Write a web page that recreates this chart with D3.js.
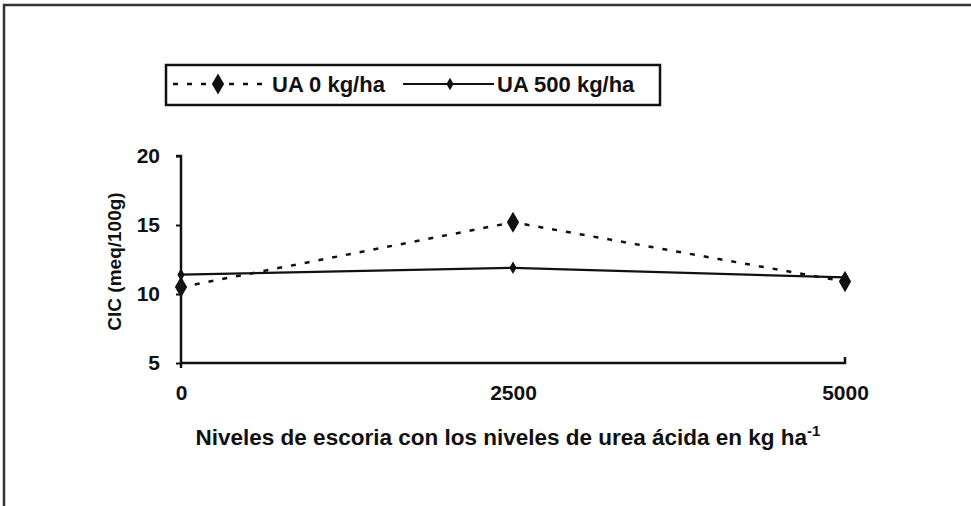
<!DOCTYPE html>
<html><head><meta charset="utf-8">
<script src="https://cdn.jsdelivr.net/npm/d3@7"></script>
<style>
html,body{margin:0;padding:0;background:#fff;}
svg{display:block;}
text{font-family:"Liberation Sans",Arial,sans-serif;font-weight:bold;fill:#111;}
</style></head>
<body>
<script>
const categories = [0, 2500, 5000];
const categoryLabels = ["0", "2500", "5000"];
const ua0 = [10.5, 15.2, 10.9];
const ua500 = [11.4, 11.9, 11.2];
const yTicks = [5, 10, 15, 20];
const seriesNames = ["UA 0 kg/ha", "UA 500 kg/ha"];

const W = 971, H = 506;
const svg = d3.select("body").append("svg").attr("width", W).attr("height", H);

// frame
svg.append("line").attr("x1", 3).attr("x2", W).attr("y1", 5).attr("y2", 5)
  .attr("stroke", "#333").attr("stroke-width", 2.5);
svg.append("line").attr("x1", 4).attr("x2", 4).attr("y1", 5).attr("y2", H)
  .attr("stroke", "#333").attr("stroke-width", 2.5);

const x = d3.scaleLinear().domain([0, 5000]).range([181, 845]);
const y = d3.scaleLinear().domain([5, 20]).range([363, 156]);

const fontFam = '"Liberation Sans",Arial,sans-serif';

// y axis
const yAxis = d3.axisLeft(y).tickValues(yTicks).tickSize(5).tickPadding(16).tickFormat(d3.format("d"));
const gy = svg.append("g").attr("transform", `translate(${x(0)},0)`).call(yAxis);
gy.select(".domain").attr("stroke", "#111").attr("stroke-width", 2.5).attr("d", `M-5,${y(20)}H0V${y(5)+5}`);
gy.selectAll(".tick line").attr("stroke", "#111").attr("stroke-width", 2);
gy.selectAll(".tick text").style("font-size", "21px").style("font-weight", "bold")
  .style("font-family", fontFam).attr("fill", "#111");

// x axis
const xAxis = d3.axisBottom(x).tickValues(categories).tickSize(0).tickPadding(22)
  .tickFormat((d, i) => categoryLabels[i]);
const gx = svg.append("g").attr("transform", `translate(0,${y(5)})`).call(xAxis);
gx.select(".domain").attr("stroke", "#111").attr("stroke-width", 2.5)
  .attr("d", `M${x(0)},0H${x(5000)}V-6`);
gx.selectAll(".tick text").style("font-size", "21px").style("font-weight", "bold")
  .style("font-family", fontFam).attr("fill", "#111");

// titles
svg.append("text").attr("x", 508).attr("y", 445).attr("text-anchor", "middle")
  .style("font-size", "22.5px")
  .text("Niveles de escoria con los niveles de urea ácida en kg ha")
  .append("tspan").attr("dy", -9).style("font-size", "15px").text("-1");
svg.append("text").attr("transform", `translate(121,${(y(20)+y(5))/2 + 2}) rotate(-90)`)
  .attr("text-anchor", "middle").style("font-size", "19px").text("CIC (meq/100g)");

// lines
const line = d3.line().x((d, i) => x(categories[i])).y(d => y(d));
svg.append("path").datum(ua500).attr("d", line).attr("fill", "none")
  .attr("stroke", "#111").attr("stroke-width", 2.2);
svg.append("path").datum(ua0).attr("d", line).attr("fill", "none")
  .attr("stroke", "#111").attr("stroke-width", 2.5).attr("stroke-dasharray", "5,9");

const bigDiamond = d3.symbol().type(d3.symbolDiamond).size(130);
const smallDiamond = d3.symbol().type(d3.symbolDiamond).size(45);
svg.selectAll(".m0").data(ua0).enter().append("path")
  .attr("transform", (d, i) => `translate(${x(categories[i])},${y(d)})`)
  .attr("d", bigDiamond).attr("fill", "#111");
svg.selectAll(".m1").data(ua500).enter().append("path")
  .attr("transform", (d, i) => `translate(${x(categories[i])},${y(d)})`)
  .attr("d", smallDiamond).attr("fill", "#111");

// legend
const lg = svg.append("g");
lg.append("rect").attr("x", 166).attr("y", 65).attr("width", 494).attr("height", 40)
  .attr("fill", "#fff").attr("stroke", "#111").attr("stroke-width", 2.5);
lg.append("line").attr("x1", 173).attr("x2", 267).attr("y1", 84).attr("y2", 84)
  .attr("stroke", "#111").attr("stroke-width", 2.5).attr("stroke-dasharray", "5,9");
lg.append("path").attr("transform", "translate(218,84)").attr("d", bigDiamond).attr("fill", "#111");
lg.append("text").attr("x", 272).attr("y", 92).style("font-size", "22px").text(seriesNames[0]);
lg.append("line").attr("x1", 403).attr("x2", 494).attr("y1", 84).attr("y2", 84)
  .attr("stroke", "#111").attr("stroke-width", 2.2);
lg.append("path").attr("transform", "translate(450,84)").attr("d", smallDiamond).attr("fill", "#111");
lg.append("text").attr("x", 497).attr("y", 92).style("font-size", "22px").text(seriesNames[1]);
</script>
</body></html>
